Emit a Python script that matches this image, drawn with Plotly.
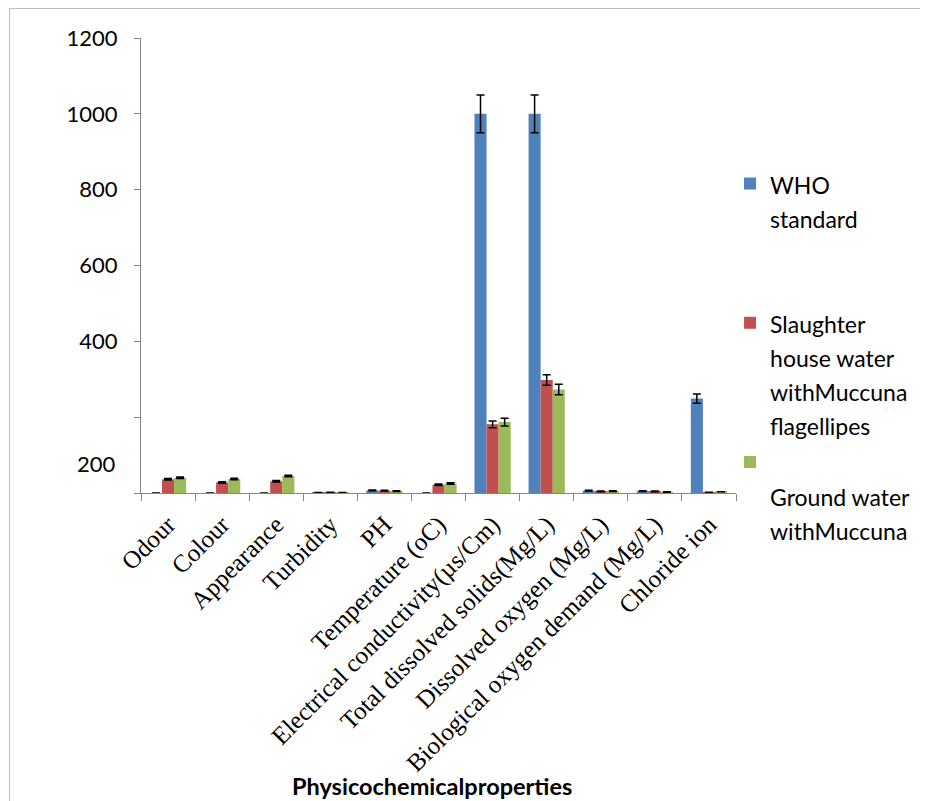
import plotly.graph_objects as go

categories = ["Odour", "Colour", "Appearance", "Turbidity", "PH", "Temperature (oC)",
              "Electrical conductivity(µs/Cm)", "Total dissolved solids(Mg/L)",
              "Dissolved oxygen (Mg/L)", "Biological oxygen demand (Mg/L)", "Chloride ion"]

who_standard = [0, 0, 0, 1, 7, 0, 1000, 1000, 6, 5, 249]
who_err = [0, 0, 0, 0, 1, 0, 50, 50, 1, 1, 12]
slaughter = [36, 28, 31, 2, 6, 22, 181, 298, 4, 4, 2]
slaughter_err = [2, 2, 2, 0, 1, 2, 9, 14, 1, 1, 0]
ground = [40, 37, 45, 1, 5, 25, 187, 273, 5, 2, 3]
ground_err = [2, 2, 2, 0, 1, 2, 10, 14, 1, 1, 0]

legend_lines = [["WHO", "standard", " ", " "],
                ["Slaughter", "house water", "withMuccuna", "flagellipes"],
                [" ", "Ground water", "withMuccuna"]]
colors = ["#4F81BD", "#C0504D", "#9BBB59"]

y_tickvals = [0, 200, 400, 600, 800, 1000, 1200]
y_ticktext = ["", "", "400", "600", "800", "1000", "1200"]

# page has an 8px body margin; figure sized to fit the window
W, H = 920, 793
L, R, T, B = 133, 187, 30, 308
pw, ph = W - L - R, H - T - B


def pxx(page_x):
    return (page_x - 8 - L) / pw


def pxy(page_y):
    return (T + ph - (page_y - 8)) / ph


def legend_name(lines):
    return "<br>".join("<span style='font-size:23px'>%s</span>" % s for s in lines)


fig = go.Figure()
for lines, vals, errs, col, g in zip(legend_lines, [who_standard, slaughter, ground],
                                     [who_err, slaughter_err, ground_err], colors, ["a", "b", "c"]):
    fig.add_trace(go.Bar(
        x=categories, y=vals, name=legend_name(lines), legendgroup=g,
        marker=dict(color=col, line=dict(width=0)),
        error_y=dict(type="data", array=errs, visible=True, color="black",
                     thickness=1.5, width=4),
    ))

sans = "Lato, 'Open Sans', sans-serif"
fig.update_layout(
    width=W, height=H,
    margin=dict(l=L, r=R, t=T, b=B),
    paper_bgcolor="white", plot_bgcolor="white",
    barmode="group", bargap=0.33, bargroupgap=0,
    font=dict(family=sans, color="black"),
    legend=dict(x=pxx(735), y=pxy(160), xanchor="left", yanchor="top",
                font=dict(family=sans, size=26.2, color="black"),
                traceorder="grouped", tracegroupgap=0, valign="top",
                bgcolor="rgba(0,0,0,0)"),
    xaxis=dict(type="category", showline=True, linecolor="#868686", linewidth=1,
               ticks="outside", tickson="boundaries", ticklen=7, tickcolor="#868686",
               tickangle=-45, showgrid=False, ticklabelstandoff=6,
               tickfont=dict(family="'Liberation Serif', 'Times New Roman', serif", size=25, color="black")),
    yaxis=dict(range=[0, 1200], showline=True, linecolor="#868686", linewidth=1,
               ticks="outside", ticklen=6, tickcolor="#868686", showgrid=False, zeroline=False,
               tickvals=y_tickvals, ticktext=y_ticktext, ticklabelstandoff=12,
               tickfont=dict(family=sans, size=22, color="black")),
    annotations=[
        dict(text="200", xref="paper", yref="y", x=pxx(118), y=79, xanchor="right",
             yanchor="middle", showarrow=False, font=dict(family=sans, size=22, color="black")),
        dict(text="<b>Physicochemicalproperties</b>", xref="paper", yref="paper",
             x=pxx(434), y=pxy(786), xanchor="center", yanchor="middle",
             showarrow=False, font=dict(family=sans, size=23.5, color="black")),
    ],
    shapes=[dict(type="rect", xref="paper", yref="paper",
                 x0=pxx(8.5), x1=pxx(960), y0=pxy(840), y1=pxy(8.5),
                 line=dict(color="#BFBFBF", width=1), fillcolor="rgba(0,0,0,0)", layer="below")],
)

fig.write_html("out.html")
